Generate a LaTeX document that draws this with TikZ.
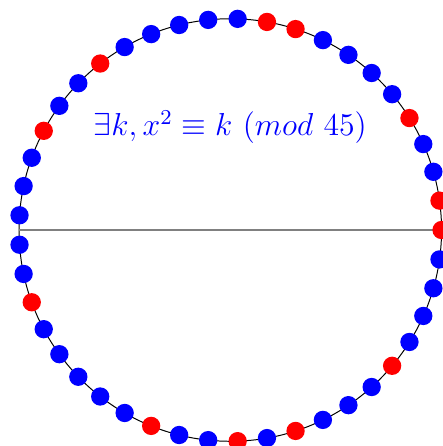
\documentclass[tikz,border=0pt]{standalone}
\usetikzlibrary{positioning}
\tikzset{
  ring/.style  = {circle, draw=black, line width=0.4pt, minimum size=6cm, inner sep=0pt},
  dot/.style   = {circle, inner sep=0pt, minimum size=0.26cm},
  resdot/.style= {dot, fill=red},
  nondot/.style= {dot, fill=blue},
  axis/.style  = {draw=gray, line width=0.8pt},
  claim/.style = {text=blue, font=\large, scale=1.07, transform shape},
}

\begin{document}
\begin{tikzpicture}
      \useasboundingbox (-3.27,-3.067) rectangle (3.02,3.266);
      \node[ring] (ring) at (0,0) {};
      \draw[axis] (ring.west) -- (ring.east);

      % non-residues mod 45
      \foreach \k in {2,3,5,6,7,8,11,12,13,14,15,17,18,20,21,22,23,24,
                      26,27,28,29,30,32,33,35,37,38,39,41,42,43,44}
        \node[nondot] (p\k) at (8*\k:3) {};
      % quadratic residues mod 45
      \foreach \k in {0,1,4,9,10,16,19,25,31,34,36,40}
        \node[resdot] (p\k) at (8*\k:3) {};

      \node[claim] (claim) at (0,1.46) {$\exists k, x^2 \equiv k\ (mod\ 45)$};
    \end{tikzpicture}
\end{document}
